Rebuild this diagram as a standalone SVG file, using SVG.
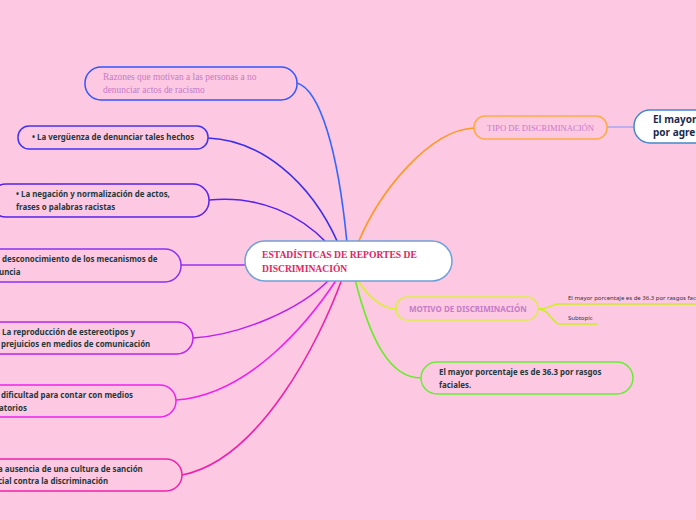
<svg xmlns="http://www.w3.org/2000/svg" width="696" height="520" viewBox="0 0 696 520">
<style>
.bg{fill:#fdc8e2}
.n{fill:none;stroke-width:1.5}
.c{fill:none;stroke-width:1.6}
.t{font-family:"Noto Sans","Open Sans",sans-serif;font-size:7.9px;font-weight:bold;fill:#1e3a3a}
.s{font-family:"Liberation Serif",serif;font-size:9.4px;fill:#c47cc8}
.m{font-family:"Noto Sans",sans-serif;font-size:8px;font-weight:bold;fill:#c47cc8}
.ct{font-family:"Liberation Serif",serif;font-size:9.6px;font-weight:bold;fill:#e3245f}
.sub{font-family:"Noto Sans",sans-serif;font-size:6px;fill:#333}
</style>
<rect class="bg" x="0" y="0" width="696" height="520"/>
<g id="connectors">
<path class="c" stroke="#3366ff" d="M297,83 C320,90 338,150 347,243"/>
<path class="c" stroke="#3b2ee8" d="M208,138 C260,140 310,180 338,243"/>
<path class="c" stroke="#5522ee" d="M209,200 C260,195 300,215 327,243"/>
<path class="c" stroke="#9933ee" d="M181,265 C205,265 225,265 246,265"/>
<path class="c" stroke="#bb22ee" d="M193,338 C240,335 300,310 330,279"/>
<path class="c" stroke="#ee22ee" d="M176,400 C250,395 310,320 337,279"/>
<path class="c" stroke="#ee22aa" d="M182,475 C260,460 320,340 342,279"/>
<path class="c" stroke="#ff9922" d="M358,243 C380,190 430,130 474,128"/>
<path class="c" stroke="#ddee33" d="M357,279 C370,300 385,309 396,309"/>
<path class="c" stroke="#66ee22" d="M355,279 C370,340 390,378 421,378"/>
<path class="c" stroke="#b0a8f0" d="M607,127 L634,127"/>
<path class="c" stroke="#ccee22" d="M538,309 C550,309 552,304 558,304 L696,304"/>
<path class="c" stroke="#ccee22" d="M538,309 C550,309 552,324 560,324 L597,324"/>
</g>
<g id="center">
<rect x="245" y="241" width="207" height="40" rx="20" fill="#fff" stroke="#6fa0d8" stroke-width="1.5"/>
<text class="ct" x="262" y="258">ESTADÍSTICAS DE REPORTES DE</text>
<text class="ct" x="262" y="272">DISCRIMINACIÓN</text>
</g>
<g id="razones">
<rect class="n" x="85" y="67" width="212" height="33" rx="16" stroke="#3355ff"/>
<text class="s" x="103" y="80">Razones que motivan a las personas a no</text>
<text class="s" x="103" y="93">denunciar actos de racismo</text>
</g>
<g id="verguenza">
<rect class="n" x="18" y="126" width="190" height="23" rx="11" stroke="#4433ee"/>
<text class="t" x="32" y="140">• La vergüenza de denunciar tales hechos</text>
</g>
<g id="negacion">
<rect class="n" x="-10" y="184" width="219" height="33" rx="16" stroke="#5522ee"/>
<text class="t" x="16" y="197">• La negación y normalización de actos,</text>
<text class="t" x="16" y="210">frases o palabras racistas</text>
</g>
<g id="desconocimiento">
<rect class="n" x="-40" y="249" width="221" height="33" rx="16" stroke="#8833ee"/>
<text class="t" x="2" y="262">desconocimiento de los mecanismos de</text>
<text class="t" x="-1" y="275">uncia</text>
</g>
<g id="reproduccion">
<rect class="n" x="-30" y="322" width="223" height="32" rx="16" stroke="#bb22ee"/>
<text class="t" x="-3" y="335">• La reproducción de estereotipos y</text>
<text class="t" x="1" y="347">prejuicios en medios de comunicación</text>
</g>
<g id="dificultad">
<rect class="n" x="-40" y="385" width="216" height="32" rx="16" stroke="#ee22ee"/>
<text class="t" x="1" y="398">dificultad para contar con medios</text>
<text class="t" x="-1" y="411">atorios</text>
</g>
<g id="ausencia">
<rect class="n" x="-40" y="459" width="222" height="32" rx="16" stroke="#ee22aa"/>
<text class="t" x="-2" y="472">a ausencia de una cultura de sanción</text>
<text class="t" x="-2" y="484">cial contra la discriminación</text>
</g>
<g id="tipo">
<rect class="n" x="474" y="116" width="133" height="23" rx="11" stroke="#ffaa44"/>
<text class="s" x="487" y="131" style="font-size:8.6px">TIPO DE DISCRIMINACIÓN</text>
</g>
<g id="agresion">
<rect x="634" y="110" width="100" height="33" rx="16" fill="#fff" stroke="#4488cc" stroke-width="1.5"/>
<text class="t" x="653" y="123" style="font-size:10px;fill:#1a2a4a">El mayor</text>
<text class="t" x="653" y="136" style="font-size:10px;fill:#1a2a4a">por agre</text>
</g>
<g id="motivo">
<rect class="n" x="396" y="297" width="142" height="23" rx="11" stroke="#ddee44"/>
<text class="m" x="409" y="312">MOTIVO DE DISCRIMINACIÓN</text>
</g>
<g id="sub1">
<text class="sub" x="568" y="300">El mayor porcentaje es de 36.3 por rasgos faciales.</text>
</g>
<g id="sub2">
<text class="sub" x="568" y="320">Subtopic</text>
</g>
<g id="faciales">
<rect class="n" x="421" y="362" width="212" height="32" rx="16" stroke="#66ee33"/>
<text class="t" x="439" y="375">El mayor porcentaje es de 36.3 por rasgos</text>
<text class="t" x="439" y="388">faciales.</text>
</g>
</svg>
